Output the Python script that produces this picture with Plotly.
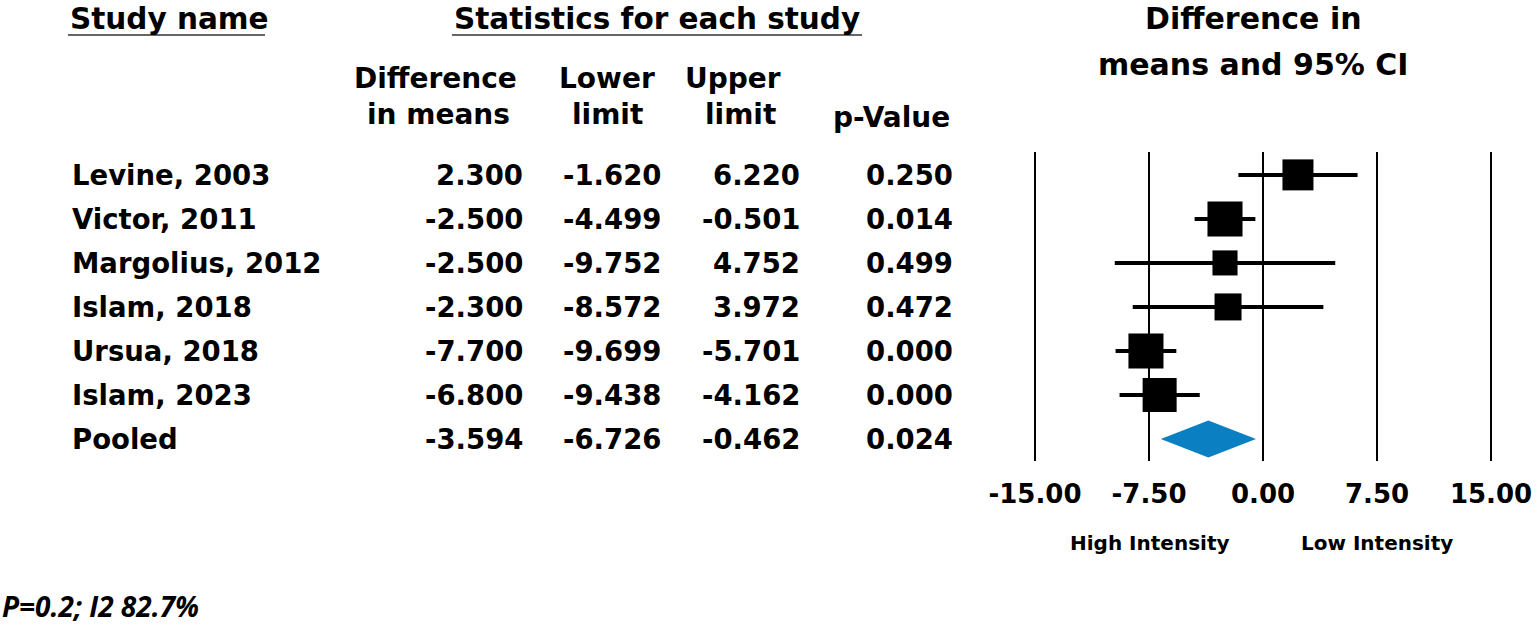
import plotly.graph_objects as go

# forest plot data
studies = ["Levine, 2003", "Victor, 2011", "Margolius, 2012", "Islam, 2018",
           "Ursua, 2018", "Islam, 2023"]
diff_means = [2.300, -2.500, -2.500, -2.300, -7.700, -6.800]
lower = [-1.620, -4.499, -9.752, -8.572, -9.699, -9.438]
upper = [6.220, -0.501, 4.752, 3.972, -5.701, -4.162]
p_values = [0.250, 0.014, 0.499, 0.472, 0.000, 0.000]
weights = [16.2, 20.7, 10.6, 12.3, 20.7, 19.5]  # relative weight (%)

pooled_name = "Pooled"
pooled_mean = -3.594
pooled_lower = -6.726
pooled_upper = -0.462
pooled_p = 0.024

tick_vals = [-15, -7.5, 0, 7.5, 15]
tick_text = ["-15.00", "-7.50", "0.00", "7.50", "15.00"]
footnote = "P=0.2; I2 82.7%"

W, H = 1537, 625
FONT = "DejaVu Sans"
rows = list(range(len(studies)))
pooled_row = len(studies)


def px(x):
    return x / W


def py(y):
    return 1 - y / H


fig = go.Figure()

# study squares with CI whiskers
sizes = [7.7 * w ** 0.5 for w in weights]
fig.add_trace(go.Scatter(
    x=diff_means, y=rows, mode="markers",
    marker=dict(symbol="square", size=sizes, color="black", opacity=1,
                line=dict(width=0)),
    error_x=dict(type="data", symmetric=False,
                 array=[u - m for u, m in zip(upper, diff_means)],
                 arrayminus=[m - l for m, l in zip(diff_means, lower)],
                 thickness=4, width=0, color="black"),
    hoverinfo="skip", showlegend=False, cliponaxis=False,
))

# pooled diamond
h = 0.42
fig.add_trace(go.Scatter(
    x=[pooled_lower, pooled_mean, pooled_upper, pooled_mean, pooled_lower],
    y=[pooled_row, pooled_row - h, pooled_row, pooled_row + h, pooled_row],
    mode="lines", fill="toself", fillcolor="#0a7fc2",
    line=dict(width=0, color="#0a7fc2"),
    hoverinfo="skip", showlegend=False,
))

# 15.2 px per unit, -15 at x=1035
pad = 0.3
fig.update_xaxes(
    domain=[px(1035 - pad * 15.2), px(1491 + pad * 15.2)],
    range=[-15 - pad, 15 + pad],
    tickvals=tick_vals, ticktext=tick_text,
    showgrid=True, gridcolor="black", gridwidth=2,
    zeroline=False, showline=False, automargin=False,
    ticks="", ticklabelstandoff=15,
    tickfont=dict(family=FONT, size=26, color="black", weight="bold"),
)
fig.update_yaxes(
    domain=[py(461), py(152)], range=[6.5, -0.52],
    showgrid=False, zeroline=False, showticklabels=False, ticks="",
    automargin=False,
)

ann = []
bold = dict(family=FONT, color="black", weight="bold")


def text(s, x, y, size, anchor="left", yref="paper", font=None):
    f = dict(font or bold)
    f["size"] = size
    ann.append(dict(text=s, x=px(x), y=(py(y) if yref == "paper" else y),
                    xref="paper", yref=yref, xanchor=anchor, yanchor="middle",
                    showarrow=False, font=f))


# headers
text("Study name", 68, 19, 29.5)
text("Statistics for each study", 452, 19, 29.5)
text("Difference in", 1253, 18, 30, "center")
text("means and 95% CI", 1253, 64, 30, "center")
text("Difference", 435, 78, 28, "center")
text("in means", 438, 115, 28, "center")
text("Lower", 607, 78, 28, "center")
text("limit", 607, 115, 28, "center")
text("Upper", 733, 78, 28, "center")
text("limit", 740, 115, 28, "center")
text("p-Value", 891, 117, 28, "center")

# table rows
names = studies + [pooled_name]
col_diff = diff_means + [pooled_mean]
col_low = lower + [pooled_lower]
col_up = upper + [pooled_upper]
col_p = p_values + [pooled_p]
for i, name in enumerate(names):
    text(name, 70, i, 27.5, "left", yref="y")
    text(f"{col_diff[i]:.3f}", 525, i, 27.5, "right", yref="y")
    text(f"{col_low[i]:.3f}", 663, i, 27.5, "right", yref="y")
    text(f"{col_up[i]:.3f}", 802, i, 27.5, "right", yref="y")
    text(f"{col_p[i]:.3f}", 955, i, 27.5, "right", yref="y")

text("High Intensity", 1150, 543, 20, "center")
text("Low Intensity", 1377, 543, 20, "center")
text(footnote, 0, 606, 28, "left",
     font=dict(family="Open Sans", color="black", weight="bold", style="italic"))

shapes = [
    dict(type="line", xref="paper", yref="paper", x0=px(68), x1=px(265),
         y0=py(35), y1=py(35), line=dict(color="#666666", width=2)),
    dict(type="line", xref="paper", yref="paper", x0=px(452), x1=px(862),
         y0=py(35), y1=py(35), line=dict(color="#666666", width=2)),
]

fig.update_layout(
    width=W, height=H, margin=dict(l=0, r=0, t=0, b=0, autoexpand=False),
    paper_bgcolor="white", plot_bgcolor="white",
    annotations=ann, shapes=shapes,
)

fig.write_html("out.html", config={"displayModeBar": False},
               post_script="document.body.style.margin='0';"
                           "document.body.style.overflow='hidden';")
